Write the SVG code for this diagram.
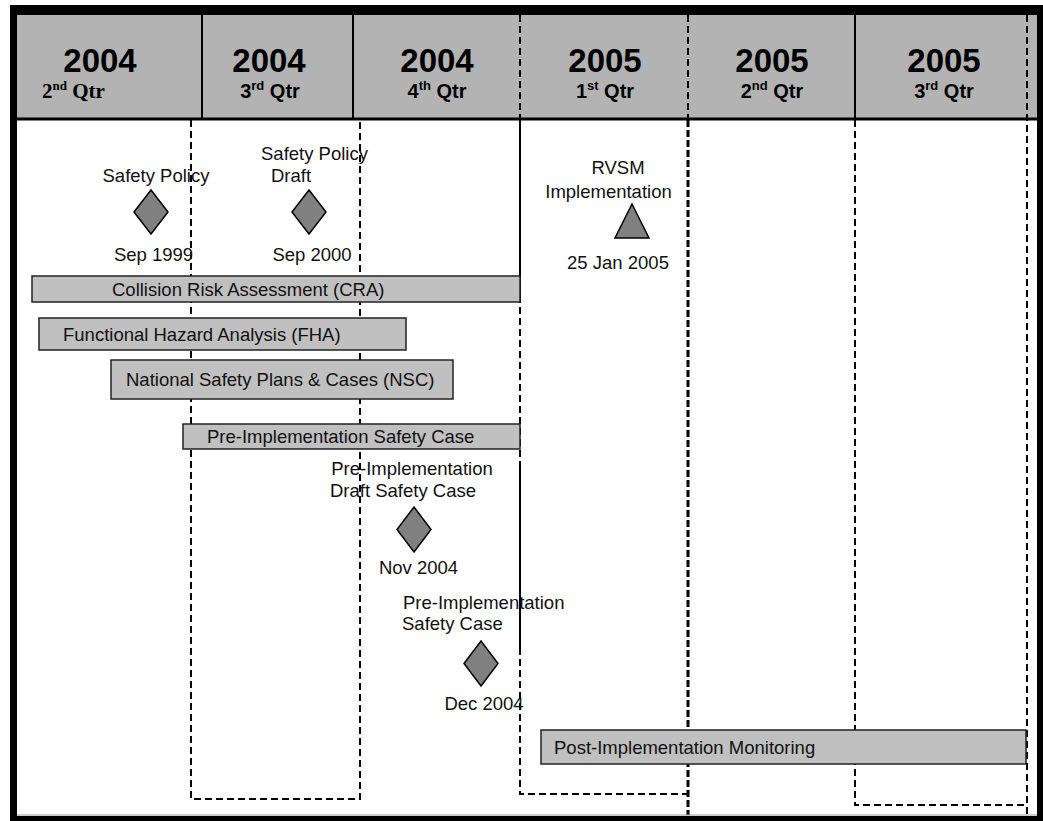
<svg xmlns="http://www.w3.org/2000/svg" width="1043" height="821" viewBox="0 0 1043 821">
<style>
.hdr{fill:#b3b3b3}
.yr{font-family:"Liberation Sans",Arial,sans-serif;font-weight:bold;font-size:33px;fill:#000;text-anchor:middle}
.qt{font-family:"Liberation Sans",Arial,sans-serif;font-weight:bold;font-size:20px;fill:#000;text-anchor:middle}
.qts{font-family:"Liberation Serif","Times New Roman",serif;font-weight:bold;font-size:21px;fill:#000}
.lb{font-family:"Liberation Sans",Arial,sans-serif;font-size:18.5px;fill:#111}
.mid{text-anchor:middle}
.bar{fill:#c0c0c0;stroke:#222;stroke-width:1.5}
.ms{fill:#808080;stroke:#000;stroke-width:1.5}
.sl{stroke:#000;stroke-width:2;fill:none}
.dl{stroke:#000;stroke-width:2;stroke-dasharray:7,4;fill:none}
.dt{stroke:#000;stroke-width:3;stroke-dasharray:7,3;fill:none}
</style>
<rect x="0" y="0" width="1043" height="821" fill="#fff"/>
<g id="header">
<rect class="hdr" x="16" y="15" width="1021" height="104"/>
<line class="sl" x1="16" y1="119" x2="1037" y2="119" style="stroke-width:3"/>
<line class="sl" x1="202" y1="15" x2="202" y2="120"/>
<line class="sl" x1="353" y1="15" x2="353" y2="120"/>
<line class="dl" x1="520" y1="15" x2="520" y2="120"/>
<line class="dl" x1="688" y1="15" x2="688" y2="120"/>
<line class="sl" x1="855" y1="15" x2="855" y2="120"/>
<text class="yr" x="100" y="72">2004</text>
<text class="qts" x="42" y="98">2<tspan font-size="13" dy="-8">nd</tspan><tspan dy="8"> Qtr</tspan></text>
<text class="yr" x="269" y="72">2004</text>
<text class="qt" x="270" y="98">3<tspan font-size="13" dy="-8">rd</tspan><tspan dy="8"> Qtr</tspan></text>
<text class="yr" x="437" y="72">2004</text>
<text class="qt" x="437" y="98">4<tspan font-size="13" dy="-8">th</tspan><tspan dy="8"> Qtr</tspan></text>
<text class="yr" x="605" y="72">2005</text>
<text class="qt" x="605" y="98">1<tspan font-size="13" dy="-8">st</tspan><tspan dy="8"> Qtr</tspan></text>
<text class="yr" x="772" y="72">2005</text>
<text class="qt" x="772" y="98">2<tspan font-size="13" dy="-8">nd</tspan><tspan dy="8"> Qtr</tspan></text>
<text class="yr" x="944" y="72">2005</text>
<text class="qt" x="944" y="98">3<tspan font-size="13" dy="-8">rd</tspan><tspan dy="8"> Qtr</tspan></text>
</g>
<g id="grid">
<polyline class="dl" points="191,120 191,799 360,799 360,120"/>
<line class="sl" x1="520" y1="120" x2="520" y2="300"/>
<line class="sl" x1="520" y1="465" x2="520" y2="650"/>
<polyline class="dl" points="520,120 520,794 688,794"/>
<line class="dt" x1="688" y1="120" x2="688" y2="815"/>
<polyline class="dl" points="855,120 855,805 1027,805"/>
<line class="dl" x1="1027" y1="15" x2="1027" y2="815"/>
</g>
<g id="bars">
<g id="cra"><rect class="bar" x="32" y="276" width="488" height="26"/><text class="lb" x="112" y="295.5">Collision Risk Assessment (CRA)</text></g>
<g id="fha"><rect class="bar" x="39" y="318" width="367" height="32"/><text class="lb" x="63" y="340.5">Functional Hazard Analysis (FHA)</text></g>
<g id="nsc"><rect class="bar" x="111" y="360" width="342" height="39"/><text class="lb" x="126" y="386">National Safety Plans &amp; Cases (NSC)</text></g>
<g id="pisc"><rect class="bar" x="183" y="424" width="337" height="25"/><text class="lb" x="207" y="443">Pre-Implementation Safety Case</text></g>
<g id="pim"><rect class="bar" x="541" y="730" width="485" height="34"/><text class="lb" x="554" y="753.5">Post-Implementation Monitoring</text></g>
</g>
<g id="ms-sp">
<text class="lb mid" x="156" y="181.5">Safety Policy</text>
<polygon class="ms" points="151,190 168,212 151,234 134,212"/>
<text class="lb mid" x="153.5" y="260.5">Sep 1999</text>
</g>
<g id="ms-spd">
<text class="lb mid" x="314.5" y="159.5">Safety Policy</text>
<text class="lb" x="271" y="181.5">Draft</text>
<polygon class="ms" points="309,190 326,212 309,234 292,212"/>
<text class="lb mid" x="312" y="260.5">Sep 2000</text>
</g>
<g id="ms-rvsm">
<text class="lb mid" x="618" y="173.5">RVSM</text>
<text class="lb mid" x="608.5" y="197.5">Implementation</text>
<polygon class="ms" points="632,204 649,238 615,238"/>
<text class="lb mid" x="618" y="268.5">25 Jan 2005</text>
</g>
<g id="ms-nov">
<text class="lb mid" x="412" y="474.5">Pre-Implementation</text>
<text class="lb" x="330" y="496.5">Draft Safety Case</text>
<polygon class="ms" points="414,507 431,529.5 414,552 397,529.5"/>
<text class="lb mid" x="418.5" y="573.5">Nov 2004</text>
</g>
<g id="ms-dec">
<text class="lb" x="403" y="608.5">Pre-Implementation</text>
<text class="lb" x="402" y="629.5">Safety Case</text>
<polygon class="ms" points="481,641 498,663.5 481,686 464,663.5"/>
<text class="lb mid" x="484" y="709.5">Dec 2004</text>
</g>
<g id="frame">
<rect x="10" y="5" width="1033" height="10" fill="#000"/>
<rect x="10" y="5" width="7" height="816" fill="#000"/>
<rect x="1037" y="5" width="6" height="816" fill="#000"/>
<line x1="17" y1="815" x2="1037" y2="815" stroke="#999" stroke-width="1"/>
<rect x="10" y="816" width="1033" height="5" fill="#000"/>
</g>
</svg>
